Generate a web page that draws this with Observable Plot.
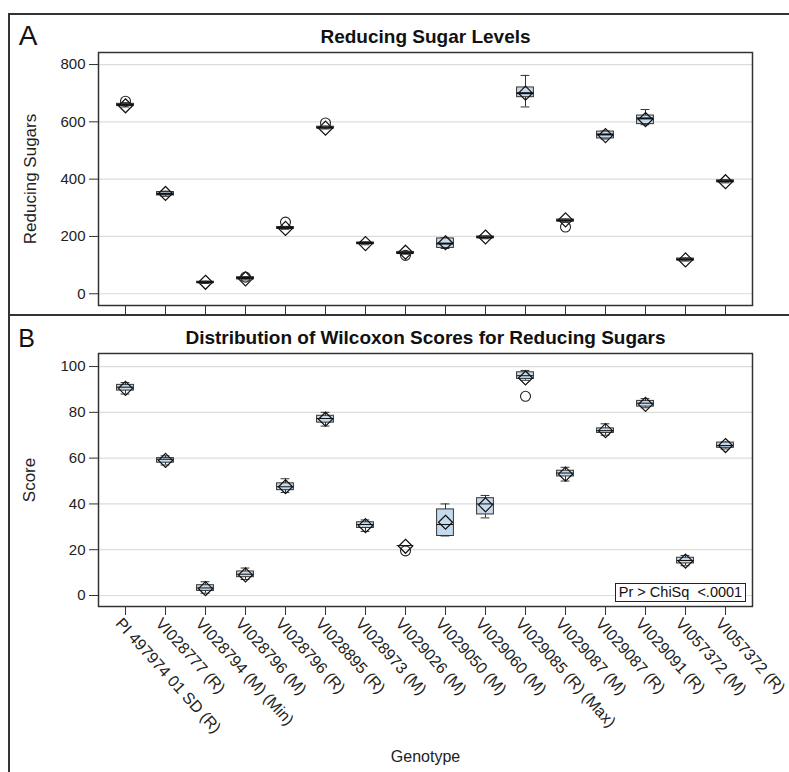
<!DOCTYPE html>
<html>
<head>
<meta charset="utf-8">
<script src="https://cdn.jsdelivr.net/npm/d3@7"></script>
<script src="https://cdn.jsdelivr.net/npm/@observablehq/plot@0.6"></script>
<style>
  body { margin: 0; background: #fff; }
  #wrap { position: relative; width: 789px; height: 772px; background: #fff; overflow: hidden; font-family: "Liberation Sans", Arial, sans-serif; }
  .line { position: absolute; background: #333; }
  #A, #B { position: absolute; left: 0; }
  #stat { position: absolute; left: 615px; top: 583px; width: 129px; height: 17px; border: 1.5px solid #222; background: #fff; font-size: 14.5px; line-height: 17px; text-align: center; color: #111; white-space: pre; }
</style>
</head>
<body>
<div id="wrap">
  <div id="A" style="top:0"></div>
  <div id="B" style="top:315px"></div>
  <div class="line" style="left:8px;top:13px;width:781px;height:2px"></div>
  <div class="line" style="left:8px;top:13px;width:2px;height:759px"></div>
  <div class="line" style="left:8px;top:314px;width:781px;height:2px"></div>
  <div id="stat">Pr &gt; ChiSq  &lt;.0001</div>
</div>
<script>
const genotypes = ["PI 497974 01 SD (R)", "VI028777 (R)", "VI028794 (M) (Min)", "VI028796 (M)", "VI028796 (R)", "VI028895 (R)", "VI028973 (M)", "VI029026 (M)", "VI029050 (M)", "VI029060 (M)", "VI029085 (R) (Max)", "VI029087 (M)", "VI029087 (R)", "VI029091 (R)", "VI057372 (M)", "VI057372 (R)"];

// Panel A: Reducing sugars
const aMin  = [652, 340, 36, 48, 225, 575, 171, 138, 158, 192, 652, 250, 540, 590, 114, 387];
const aQ1   = [655, 343, 38, 50, 227, 577, 173, 140, 160, 194, 686, 252, 542, 592, 116, 389];
const aMed  = [660, 349, 40, 55, 230, 580, 177, 142, 175, 197, 700, 256, 556, 612, 120, 393];
const aQ3   = [663, 355, 42, 58, 233, 583, 179, 146, 193, 200, 720, 259, 566, 622, 123, 396];
const aMax  = [667, 358, 44, 60, 235, 585, 181, 148, 195, 202, 762, 261, 568, 643, 125, 398];
const aMean = [656, 350, 40, 52, 228, 578, 175, 145, 178, 198, 700, 258, 552, 608, 118, 391];
const aOutG = [0, 3, 4, 5, 7, 11];
const aOutV = [672, 58, 250, 596, 134, 233];
const aTicks = [0, 200, 400, 600, 800];

// Panel B: Wilcoxon scores
const bMin  = [88, 57, 1, 7, 45, 74, 28, 21.8, 26, 33.9, 94, 50, 70, 82, 13, 64];
const bQ1   = [89.5, 58, 2, 8, 46, 75.5, 29.5, 21.8, 26, 35.4, 94.6, 52, 71, 82.5, 14, 64.5];
const bMed  = [91, 59.5, 3.3, 9.3, 47.5, 77.3, 31, 21.8, 31, 40, 96, 53.5, 72, 84, 15.3, 65.5];
const bQ3   = [92, 60, 4.5, 10.5, 49, 78.5, 32, 21.8, 37.6, 42.5, 97.5, 54.5, 73, 85, 16.5, 66.8];
const bMax  = [93, 61, 6, 12, 51, 80, 33, 21.8, 40, 43.7, 98.3, 56, 75, 86, 17.5, 67];
const bMean = [90.5, 59, 3, 9, 47.5, 77, 30.5, 21.5, 32, 39.6, 95, 53, 72, 83.5, 15, 65.5];
const bOutG = [7, 10];
const bOutV = [19.5, 87];
const bTicks = [0, 20, 40, 60, 80, 100];

const diamond = {
  draw(ctx, size) {
    const r = Math.sqrt(size / Math.PI);
    ctx.moveTo(0, -r); ctx.lineTo(r, 0); ctx.lineTo(0, r); ctx.lineTo(-r, 0); ctx.closePath();
  }
};

function rows(mn, q1, md, q3, mx, mean) {
  return genotypes.map((g, i) => ({g, min: mn[i], q1: q1[i], med: md[i], q3: q3[i], max: mx[i], mean: mean[i]}));
}

const font = '"Liberation Sans", Arial, sans-serif';
const boxFill = "#c6daee";
const dark = "#333";

function boxMarks(data, outG, outV, medWidth) {
  const outs = outG.map((gi, k) => ({g: genotypes[gi], v: outV[k]}));
  return [
    Plot.ruleX(data, {x: "g", y1: "min", y2: "max", stroke: dark, strokeWidth: 1}),
    Plot.tickY(data, {x: "g", y: "max", insetLeft: 15.6, insetRight: 15.6, stroke: dark}),
    Plot.tickY(data, {x: "g", y: "min", insetLeft: 15.6, insetRight: 15.6, stroke: dark}),
    Plot.barY(data, {x: "g", y1: "q1", y2: "q3", insetLeft: 11.6, insetRight: 11.6, fill: boxFill, stroke: dark, strokeWidth: 1}),
    Plot.tickY(data, {x: "g", y: "med", insetLeft: 11.6, insetRight: 11.6, stroke: "#111", strokeWidth: medWidth}),
    Plot.dot(data, {x: "g", y: "mean", symbol: diamond, r: 7, stroke: "#111", strokeWidth: 1.2, fill: "none"}),
    Plot.dot(outs, {x: "g", y: "v", r: 5, stroke: "#222", strokeWidth: 1.1, fill: "none"})
  ];
}

const xScale = {type: "band", domain: genotypes, paddingInner: 0, paddingOuter: 0.12, align: 0.5};
const mid = {textAnchor: "middle", lineAnchor: "middle"};

const plotA = Plot.plot({
  width: 789, height: 315,
  marginLeft: 98, marginRight: 37, marginTop: 52, marginBottom: 10,
  style: {fontFamily: font, fontSize: "15px", background: "transparent", color: "#222", overflow: "visible"},
  x: xScale,
  y: {domain: [-41, 842]},
  marks: [
    Plot.gridY({ticks: aTicks, stroke: "#dcdcdc", strokeOpacity: 1, strokeWidth: 1.2}),
    ...boxMarks(rows(aMin, aQ1, aMed, aQ3, aMax, aMean), aOutG, aOutV, 2),
    Plot.frame({stroke: dark, strokeWidth: 1.5}),
    Plot.axisY({ticks: aTicks, tickSize: 9, tickPadding: 4, fontSize: 15, label: null, stroke: dark}),
    Plot.axisX({tickSize: 9, tickFormat: () => "", label: null, stroke: dark}),
    Plot.text(["Reducing Sugars"], {...mid, frameAnchor: "left", dx: -68, rotate: -90, fontSize: 17, fill: "#222"}),
    Plot.text(["Reducing Sugar Levels"], {...mid, frameAnchor: "top", dy: -16, fontSize: 19, fontWeight: "bold", fill: "#111"}),
    Plot.text(["A"], {...mid, frameAnchor: "top-left", dx: -70.5, dy: -16.5, fontSize: 28, fill: "#111"})
  ]
});
document.getElementById("A").appendChild(plotA);

const plotB = Plot.plot({
  width: 789, height: 457,
  marginLeft: 98, marginRight: 37, marginTop: 38, marginBottom: 166,
  style: {fontFamily: font, fontSize: "15px", background: "transparent", color: "#222", overflow: "visible"},
  x: xScale,
  y: {domain: [-4.8, 105.7]},
  marks: [
    Plot.gridY({ticks: bTicks, stroke: "#dcdcdc", strokeOpacity: 1, strokeWidth: 1.2}),
    ...boxMarks(rows(bMin, bQ1, bMed, bQ3, bMax, bMean), bOutG, bOutV, 1),
    Plot.frame({stroke: dark, strokeWidth: 1.5}),
    Plot.axisY({ticks: bTicks, tickSize: 9, tickPadding: 4, fontSize: 15, label: null, stroke: dark}),
    Plot.axisX({tickSize: 9, tickFormat: null, text: null, label: null, stroke: dark}),
    Plot.text(genotypes, {x: d => d, frameAnchor: "bottom", dx: -7, dy: 14, rotate: 48, textAnchor: "start", lineAnchor: "middle", fontSize: 16, fill: "#222"}),
    Plot.text(["Score"], {...mid, frameAnchor: "left", dx: -69, rotate: -90, fontSize: 17, fill: "#222"}),
    Plot.text(["Genotype"], {...mid, frameAnchor: "bottom", dy: 150, fontSize: 16, fill: "#222"}),
    Plot.text(["Distribution of Wilcoxon Scores for Reducing Sugars"], {...mid, frameAnchor: "top", dy: -16, fontSize: 19, fontWeight: "bold", fill: "#111"}),
    Plot.text(["B"], {...mid, frameAnchor: "top-left", dx: -72, dy: -14.5, fontSize: 25, fill: "#111"})
  ]
});
document.getElementById("B").appendChild(plotB);
</script>
</body>
</html>
